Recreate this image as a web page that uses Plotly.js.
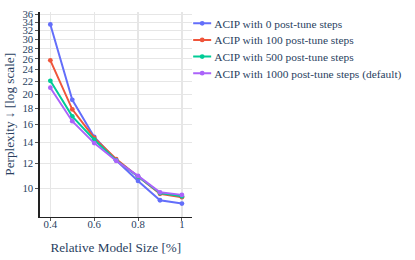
<!DOCTYPE html>
<html>
<head>
<meta charset="utf-8">
<script src="https://cdn.plot.ly/plotly-3.0.1.min.js"></script>
<style>
html,body{margin:0;padding:0;overflow:hidden;background:#fff;}
#wrap{width:692px;height:433px;transform:scale(0.6);transform-origin:0 0;}
</style>
</head>
<body>
<div id="wrap"></div>
<script>
const modelSize = [0.4, 0.5, 0.6, 0.7, 0.8, 0.9, 1.0];
const steps0 = [33.5, 19.2, 14.6, 12.3, 10.55, 9.15, 8.93];
const steps100 = [25.7, 17.9, 14.5, 12.4, 10.9, 9.6, 9.36];
const steps500 = [22.1, 17.0, 14.3, 12.3, 10.9, 9.65, 9.42];
const steps1000 = [21.0, 16.4, 13.95, 12.25, 10.95, 9.7, 9.52];
const seriesNames = ["ACIP with 0 post-tune steps", "ACIP with 100 post-tune steps", "ACIP with 500 post-tune steps", "ACIP with 1000 post-tune steps (default)"];
const seriesColors = ["#636efa", "#EF553B", "#00cc96", "#ab63fa"];
const xTickVals = [0.4, 0.6, 0.8, 1];
const xTickText = ["0.4", "0.6", "0.8", "1"];
const yTickVals = [10, 12, 14, 16, 18, 20, 22, 24, 26, 28, 30, 32, 34, 36];

const allSeries = [steps0, steps100, steps500, steps1000];
const traces = allSeries.map((ys, i) => ({
  x: modelSize, y: ys, type: 'scatter', mode: 'lines+markers',
  name: seriesNames[i],
  line: {color: seriesColors[i], width: 3.3},
  marker: {color: seriesColors[i], size: 8}
}));

const fontFam = '"Liberation Serif", "Times New Roman", serif';
const layout = {
  width: 692, height: 433,
  margin: {l: 66, r: 372, t: 20, b: 72, pad: 0},
  paper_bgcolor: '#fff', plot_bgcolor: '#fff',
  font: {family: fontFam, size: 18, color: '#2a3f5f'},
  showlegend: true,
  legend: {font: {family: fontFam, size: 19, color: '#2a3f5f'}, x: 0.988, xanchor: 'left', y: 1, yanchor: 'top', bgcolor: 'rgba(0,0,0,0)'},
  xaxis: {
    range: [0.351, 1.046], tickvals: xTickVals, ticktext: xTickText,
    showgrid: true, gridcolor: '#e6e6e6', gridwidth: 2,
    showline: true, linecolor: '#222', linewidth: 2, mirror: false,
    ticks: 'outside', ticklen: 5, tickcolor: '#444', tickwidth: 1.5,
    ticklabelstandoff: -10,
    zeroline: false,
    tickfont: {size: 18},
    title: {text: 'Relative Model Size [%]', font: {size: 22}, standoff: 22}
  },
  yaxis: {
    type: 'log', range: [0.909, 1.565], tickvals: yTickVals,
    showgrid: true, gridcolor: '#e6e6e6', gridwidth: 2,
    showline: true, linecolor: '#222', linewidth: 2,
    ticks: 'outside', ticklen: 5, tickcolor: '#444', tickwidth: 1.5,
    zeroline: false,
    tickfont: {size: 18},
    title: {text: 'Perplexity ↓ [log scale]', font: {size: 22}, standoff: 8}
  }
};
Plotly.newPlot('wrap', traces, layout, {displayModeBar: false, staticPlot: true});
</script>
</body>
</html>
